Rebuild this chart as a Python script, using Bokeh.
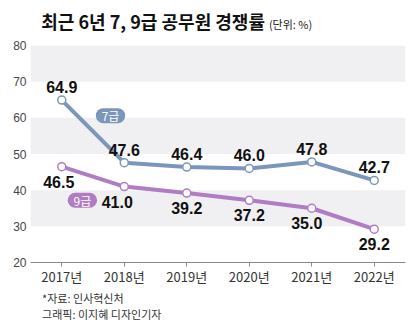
from bokeh.plotting import figure
from bokeh.layouts import column
from bokeh.models import Range1d, FixedTicker, BoxAnnotation, ColumnDataSource
from bokeh.core.properties import value
from bokeh.embed import file_html
from bokeh.resources import INLINE

years = ["2017년", "2018년", "2019년", "2020년", "2021년", "2022년"]
grade7 = [64.9, 47.6, 46.4, 46.0, 47.8, 42.7]
grade9 = [46.5, 41.0, 39.2, 37.2, 35.0, 29.2]
y_ticks = [20, 30, 40, 50, 60, 70, 80]

KR = "Noto Sans CJK KR"
NUM = "Liberation Sans"
BLUE = "#7a97bb"
PURPLE = "#b07cc4"
W = 420


def blank(h):
    f = figure(width=W, height=h, output_backend="svg", toolbar_location=None,
               x_range=Range1d(0, W), y_range=Range1d(h, 0),
               min_border=0, x_axis_type=None, y_axis_type=None)
    f.outline_line_color = None
    f.xgrid.grid_line_color = None
    f.ygrid.grid_line_color = None
    return f


# header
head = blank(40)
head.text(x=[12], y=[20], text=["최근 6년 7, 9급 공무원 경쟁률"], text_font=value(KR),
          text_font_style="bold", text_font_size="18px", text_color="#111111",
          text_baseline="middle")
head.text(x=[267], y=[23], text=["(단위: %)"], text_font=value(KR),
          text_font_size="11px", text_color="#222222", text_baseline="middle")

# main chart
xs = list(range(len(years)))
p = figure(width=W, height=248, output_backend="svg", toolbar_location=None,
           x_range=Range1d(-0.5, len(years) - 0.5), y_range=Range1d(20, 80),
           min_border_left=30, min_border_right=15, min_border_top=5, min_border_bottom=24)
p.outline_line_color = None
p.xgrid.grid_line_color = None
p.ygrid.grid_line_color = None

for lo in (30, 50, 70):
    p.add_layout(BoxAnnotation(bottom=lo, top=lo + 10, fill_color="#f0f0f2", fill_alpha=1,
                               line_color=None, level="underlay"))

p.xaxis.ticker = FixedTicker(ticks=xs)
p.xaxis.major_label_overrides = {i: y for i, y in enumerate(years)}
p.xaxis.axis_line_color = "#8a8a8a"
p.xaxis.major_tick_line_color = "#8a8a8a"
p.xaxis.major_tick_out = 4
p.xaxis.major_tick_in = 0
p.xaxis.minor_tick_line_color = None
p.xaxis.major_label_text_font = KR
p.xaxis.major_label_text_font_size = "13px"
p.xaxis.major_label_text_color = "#333333"
p.xaxis.major_label_standoff = 0

p.yaxis.ticker = FixedTicker(ticks=y_ticks)
p.yaxis.axis_line_color = None
p.yaxis.major_tick_line_color = None
p.yaxis.major_tick_out = 0
p.yaxis.major_tick_in = 0
p.yaxis.minor_tick_line_color = None
p.yaxis.minor_tick_out = 0
p.yaxis.major_label_text_font = NUM
p.yaxis.major_label_text_font_size = "12px"
p.yaxis.major_label_text_color = "#444444"
p.yaxis.major_label_standoff = 4

s7 = ColumnDataSource(dict(x=xs, y=grade7, t=[f"{v:.1f}" for v in grade7]))
s9 = ColumnDataSource(dict(x=xs, y=grade9, t=[f"{v:.1f}" for v in grade9]))

p.line("x", "y", source=s7, line_color=BLUE, line_width=4)
p.line("x", "y", source=s9, line_color=PURPLE, line_width=4)
p.scatter("x", "y", source=s7, size=8, fill_color="white", line_color=BLUE, line_width=1.5)
p.scatter("x", "y", source=s9, size=8, fill_color="white", line_color=PURPLE, line_width=1.5)

p.text("x", "y", text="t", source=s7, text_font=value(NUM), text_font_style="bold",
       text_font_size="16px", text_color="#111111", text_align="center",
       text_baseline="middle", y_offset=-13)
s9.data["xo"] = [-3, -7, 0, 0, -5, 0]
p.text("x", "y", text="t", source=s9, text_font=value(NUM), text_font_style="bold",
       text_font_size="16px", text_color="#111111", text_align="center",
       text_baseline="middle", y_offset=15, x_offset="xo")

# series badges (pill = thick round-capped segment)
for cx, cy, lab, col in ((0.78, 60.6, "7급", BLUE), (0.33, 37.2, "9급", PURPLE)):
    p.segment(x0=[cx - 0.115], y0=[cy], x1=[cx + 0.115], y1=[cy], line_color=col,
              line_width=15, line_cap="round")
    p.text(x=[cx], y=[cy], text=[lab], text_font=value(KR), text_font_size="12px",
           text_color="white", text_align="center", text_baseline="middle")

# footer
foot = blank(34)
foot.text(x=[13], y=[9], text=["*자료: 인사혁신처"], text_font=value(KR),
          text_font_size="11px", text_color="#333333", text_baseline="middle")
foot.text(x=[13], y=[25], text=["그래픽: 이지혜 디자인기자"], text_font=value(KR),
          text_font_size="11px", text_color="#333333", text_baseline="middle")

layout = column(head, p, foot, spacing=0)
open("out.html", "w").write(file_html(layout, INLINE))
